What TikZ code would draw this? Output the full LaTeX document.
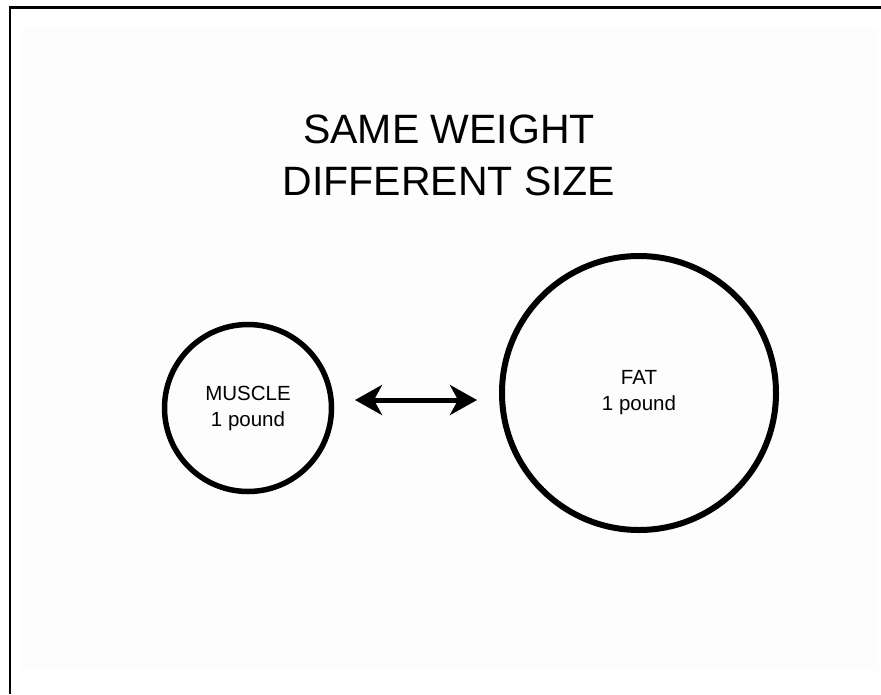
\documentclass[tikz,border=0pt]{standalone}
\usepackage{fontspec}
\setmainfont{Liberation Sans}
\usetikzlibrary{arrows.meta}
\begin{document}
\begin{tikzpicture}[x=1pt, y=-1pt,
        ball/.style={circle, draw, line width=5.5pt, inner sep=0pt, align=center,
                     font=\fontsize{20.5}{26}\selectfont},
        >={Stealth[length=27pt, width=30pt, inset=8pt]}]
        \useasboundingbox (0,0) rectangle (881,694);

        % faint page and the two frame edges (top, left)
        \fill[black!0.6] (21,27) rectangle (878,670);
        \draw[line width=2.5pt] (881,7.5) -- (10,7.5) -- (10,694);

        % Title
        \node[align=center, font=\fontsize{41}{52}\selectfont] (title) at (449,155) {SAME WEIGHT\\DIFFERENT SIZE};

        % the two balls
        \node[ball, minimum size=167pt] (muscle) at (248,408) {MUSCLE\\1 pound};
        \node[ball, line width=6pt, minimum size=274pt] (fat) at (639,393) {FAT\\1 pound};

        % double arrow between them
        \coordinate (arrowL) at (355,400);
        \coordinate (arrowR) at (477,400);
        \draw[<->, line width=5pt] (arrowL) -- (arrowR);
\end{tikzpicture}
\end{document}
